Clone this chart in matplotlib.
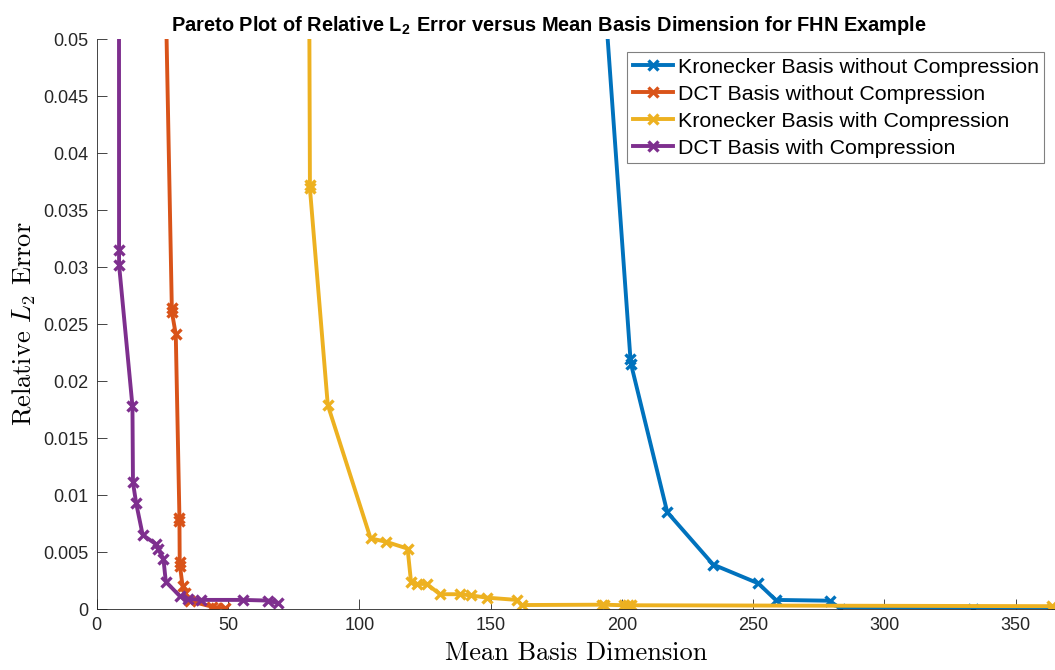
import matplotlib
matplotlib.use('Agg')
import matplotlib.pyplot as plt

plt.rcParams['mathtext.fontset'] = 'custom'
plt.rcParams['mathtext.rm'] = 'cmr10'
plt.rcParams['mathtext.it'] = 'cmmi10'
plt.rcParams['mathtext.bf'] = 'Liberation Sans:bold'
plt.rcParams['font.family'] = 'Liberation Sans'

# Kronecker basis without compression
kron_x = [191.0, 203.3, 203.5, 217.3, 234.8, 252.0, 258.6, 279.2, 283.1, 333.6, 364.0]
kron_y = [0.0617, 0.0219, 0.0215, 0.0085, 0.0039, 0.00225, 0.0008, 0.00073, 0.00004, 0.00003, 0.00002]

# DCT basis without compression
dct_x = [25.8, 28.6, 28.6, 30.1, 31.5, 31.5, 31.6, 31.7, 32.7, 33.6, 35.5, 44.0, 45.5, 49.0]
dct_y = [0.0595, 0.0264, 0.0261, 0.0241, 0.0080, 0.0077, 0.0041, 0.0038, 0.0020, 0.0014, 0.0007, 0.0002, 0.0001, 0.00005]

# Kronecker basis with compression
kronc_x = [80.2, 81.2, 81.2, 88.0, 104.3, 110.2, 118.4, 119.7, 121.9, 125.7, 130.7, 138.3, 142.4,
           148.5, 160.0, 161.8, 192.3, 193.3, 201.0, 202.5, 203.6, 364.0]
kronc_y = [0.10, 0.0372, 0.0369, 0.0179, 0.0062, 0.0059, 0.0053, 0.0024, 0.0022, 0.0022, 0.0013, 0.0013, 0.0012,
           0.0010, 0.0008, 0.00035, 0.00038, 0.00038, 0.00033, 0.00033, 0.00033, 0.00025]

# DCT basis with compression
dctc_x = [8.4, 8.5, 8.5, 13.6, 13.8, 15.0, 17.5, 22.5, 23.3, 25.4, 26.3, 31.8, 34.9, 39.9, 55.8, 65.4, 69.2]
dctc_y = [0.12, 0.0315, 0.0302, 0.0178, 0.0111, 0.0093, 0.0065, 0.0057, 0.0053, 0.0044, 0.0024, 0.0011,
          0.0009, 0.0008, 0.0008, 0.00074, 0.0005]

names = ['Kronecker Basis without Compression', 'DCT Basis without Compression',
         'Kronecker Basis with Compression', 'DCT Basis with Compression']
colors = ['#0072BD', '#D95319', '#EDB120', '#7E2F8E']

xticks = [0, 50, 100, 150, 200, 250, 300, 350]
yticks = [0, 0.005, 0.01, 0.015, 0.02, 0.025, 0.03, 0.035, 0.04, 0.045, 0.05]
ytick_labels = ['0', '0.005', '0.01', '0.015', '0.02', '0.025', '0.03', '0.035', '0.04', '0.045', '0.05']

fig = plt.figure(figsize=(10.55, 6.7), dpi=100)
ax = fig.add_axes([0.0917, 0.091, 0.9083, 0.8507])

series = [(kron_x, kron_y), (dct_x, dct_y), (kronc_x, kronc_y), (dctc_x, dctc_y)]
for (sx, sy), c, n in zip(series, colors, names):
    ax.plot(sx, sy, '-x', color=c, lw=2.8, ms=6.5, mew=2.4, label=n)

ax.set_xlim(0, 365)
ax.set_ylim(0, 0.05)
ax.set_xticks(xticks)
ax.set_xticklabels([str(t) for t in xticks])
ax.set_yticks(yticks)
ax.set_yticklabels(ytick_labels)
ax.tick_params(direction='in', length=7, width=0.6, color='#262626', labelcolor='#262626',
               labelsize=13, pad=6)
ax.spines['top'].set_visible(False)
ax.spines['right'].set_visible(False)
for s in ['left', 'bottom']:
    ax.spines[s].set_color('#262626')
    ax.spines[s].set_linewidth(0.6)

ax.set_title('Pareto Plot of Relative L$_\\mathbf{2}$ Error versus Mean Basis Dimension for FHN Example',
             fontsize=14.4, fontweight='bold', pad=6, x=0.472)
ax.set_xlabel('Mean Basis Dimension', family='cmr10', fontsize=19, labelpad=5)
ax.set_ylabel('Relative $L_2$ Error', family='cmr10', fontsize=19, labelpad=4)

leg = ax.legend(loc='upper right', bbox_to_anchor=(0.9885, 0.977), borderaxespad=0,
                fontsize=15.4, handlelength=1.9, handletextpad=0.2, labelspacing=0.38,
                borderpad=0.25, fancybox=False, framealpha=1)
leg.get_frame().set_edgecolor('#808080')
leg.get_frame().set_linewidth(0.8)

fig.savefig('out.png', dpi=100)
